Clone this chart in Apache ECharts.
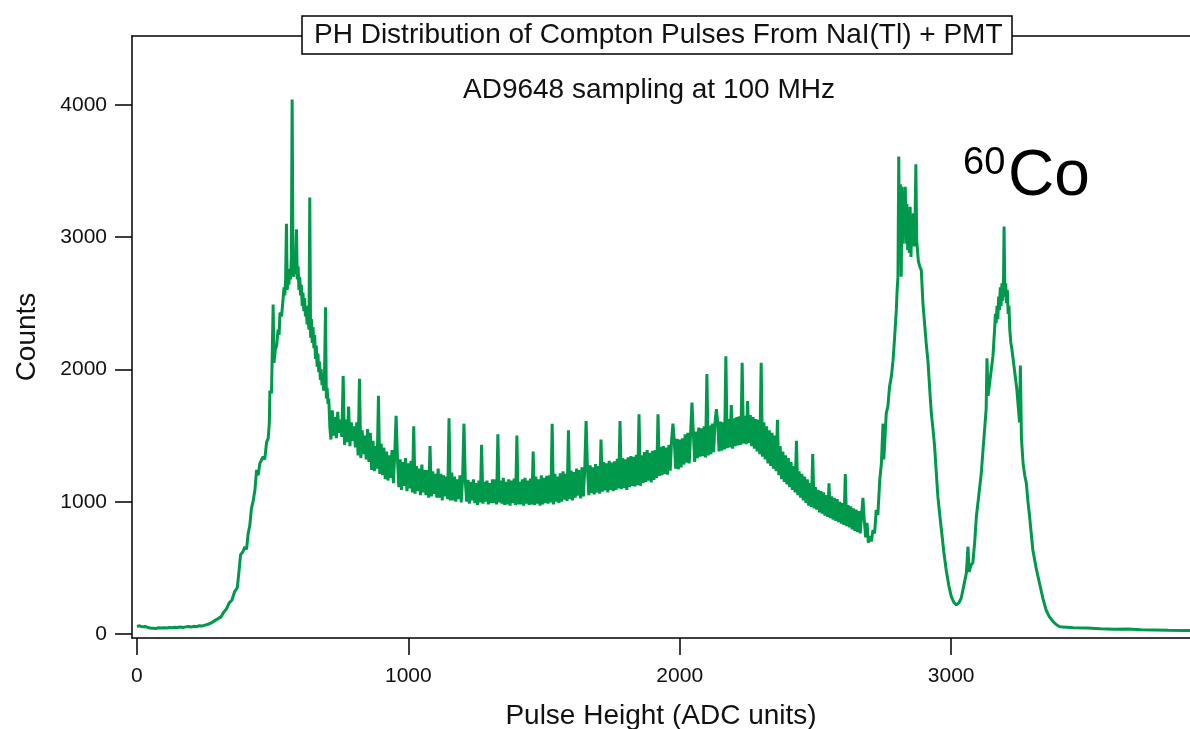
<!DOCTYPE html>
<html>
<head>
<meta charset="utf-8">
<title>PH Distribution of Compton Pulses</title>
<script src="https://cdn.jsdelivr.net/npm/echarts@6/dist/echarts.min.js"></script>
<style>
  html, body { margin: 0; padding: 0; background: #fff; }
  #chart { width: 1190px; height: 729px; }
</style>
</head>
<body>
<div id="chart"></div>
<script>
// tick positions
const xTicks = [0, 1000, 2000, 3000]
const yTicks = [0, 1000, 2000, 3000, 4000]

// spectrum, [channel, counts]
const baseline = [
  [0, 58], [10, 62], [20, 54], [30, 57], [40, 50], [50, 46], [60, 44], [70, 42], [80, 47], [90, 45],
  [100, 48], [110, 46], [120, 50], [130, 47], [140, 51], [150, 49], [160, 53], [170, 50], [180, 54],
  [190, 57], [200, 53], [210, 58], [220, 56], [230, 63], [240, 60], [250, 67], [260, 72], [270, 80],
  [280, 92], [290, 105], [300, 118], [310, 130], [320, 165]
]
const lowPeak = [
  [330, 190], [340, 235], [350, 255], [360, 320], [370, 350], [376, 470], [382, 600], [390, 620],
  [398, 660], [404, 640], [410, 760], [416, 820], [422, 950], [428, 1000], [435, 1090], [441, 1240],
  [447, 1200], [453, 1290], [459, 1280], [465, 1340], [471, 1320], [478, 1450], [484, 1480],
  [488, 1600], [490, 1840], [496, 1820], [502, 2490], [505, 2050], [510, 2150], [515, 2180],
  [520, 2300], [524, 2260], [527, 2430], [533, 2400], [539, 2540], [542, 2620], [545, 2560],
  [548, 2680], [551, 3100], [554, 2600], [557, 2720], [560, 2640], [563, 2760], [566, 2680],
  [569, 2850], [572, 4040], [575, 2820], [578, 2700], [581, 2880], [584, 2720], [588, 3060],
  [591, 2680], [594, 2780], [597, 2600], [600, 2700], [603, 2560], [606, 2640], [609, 2480],
  [612, 2580], [615, 2440], [618, 2540], [621, 2400], [624, 2480], [627, 2340], [630, 2420],
  [634, 2300], [637, 3300], [640, 2240], [643, 2380], [646, 2200], [649, 2320], [652, 2160],
  [655, 2260], [658, 2080], [661, 2180], [664, 2020], [667, 2120], [670, 1980], [673, 2060],
  [676, 1920], [679, 2000], [682, 1880], [685, 1960], [688, 1840], [691, 1920], [695, 2470],
  [698, 1780], [701, 1860], [704, 1740], [707, 1780], [711, 1560]
]
// Compton plateau, one count every 5 channels from channel 715
const plateauStart = 715
const plateauStep = 5
const plateauCounts = [
  1470, 1690, 1500, 1640, 1480, 1680, 1520, 1620, 1490, 1950,
  1430, 1620, 1450, 1720, 1420, 1600, 1460, 1570, 1410, 1600,
  1350, 1930, 1330, 1540, 1360, 1500, 1320, 1550, 1300, 1520,
  1240, 1460, 1230, 1420, 1250, 1800, 1210, 1440, 1200, 1410,
  1170, 1380, 1160, 1350, 1180, 1390, 1140, 1360, 1650, 1330,
  1110, 1320, 1090, 1300, 1120, 1330, 1080, 1290, 1100, 1310,
  1070, 1570, 1060, 1270, 1080, 1250, 1050, 1280, 1070, 1240,
  1050, 1240, 1030, 1420, 1040, 1230, 1060, 1210, 1030, 1250,
  1030, 1210, 1010, 1200, 1040, 1190, 1020, 1630, 1010, 1220,
  1010, 1190, 1000, 1170, 1020, 1200, 995, 1180, 1590, 1160,
  1000, 1165, 985, 1150, 1010, 1170, 990, 1140, 975, 1160,
  995, 1430, 985, 1150, 1000, 1160, 980, 1140, 990, 1170,
  990, 1170, 980, 1510, 995, 1160, 985, 1180, 975, 1150,
  980, 1170, 970, 1160, 990, 1175, 975, 1500, 980, 1150,
  980, 1170, 970, 1180, 985, 1160, 975, 1175, 980, 1380,
  975, 1190, 985, 1170, 970, 1200, 980, 1180, 990, 1195,
  985, 1200, 995, 1590, 980, 1210, 1000, 1190, 990, 1215,
  1000, 1230, 1015, 1210, 1005, 1540, 1020, 1235, 1010, 1225,
  1030, 1250, 1045, 1240, 1025, 1260, 1040, 1245, 1610, 1255,
  1050, 1275, 1065, 1260, 1055, 1285, 1070, 1270, 1060, 1470,
  1075, 1300, 1085, 1290, 1070, 1310, 1090, 1295, 1080, 1305,
  1090, 1325, 1100, 1610, 1095, 1330, 1105, 1320, 1090, 1335,
  1110, 1345, 1120, 1340, 1115, 1355, 1125, 1660, 1120, 1350,
  1140, 1375, 1150, 1390, 1160, 1370, 1145, 1385, 1165, 1390,
  1180, 1660, 1195, 1415, 1200, 1420, 1210, 1410, 1205, 1430,
  1235, 1465, 1590, 1460, 1250, 1475, 1245, 1470, 1260, 1480,
  1280, 1510, 1295, 1520, 1290, 1515, 1750, 1525, 1300, 1530,
  1330, 1560, 1340, 1555, 1345, 1570, 1335, 1965, 1350, 1575,
  1360, 1590, 1375, 1600, 1700, 1595, 1380, 1605, 1385, 1600,
  1395, 2100, 1405, 1625, 1410, 1730, 1400, 1630, 1420, 1640,
  1425, 1645, 1430, 2050, 1440, 1650, 1435, 1760, 1445, 1655,
  1420, 1640, 1400, 1625, 1380, 1620, 1360, 2050, 1340, 1600,
  1320, 1570, 1290, 1540, 1270, 1520, 1250, 1500, 1230, 1620,
  1200, 1420, 1170, 1380, 1150, 1350, 1130, 1330, 1110, 1300,
  1090, 1270, 1070, 1460, 1050, 1230, 1030, 1210, 1010, 1190,
  990, 1170, 970, 1140, 960, 1360, 950, 1110, 940, 1090,
  920, 1080, 910, 1070, 895, 1050, 885, 1140, 875, 1040,
  865, 1030, 855, 1020, 845, 1000, 835, 990, 825, 1210,
  815, 975, 805, 965, 790, 950, 780, 940, 770, 930,
  760, 900, 1030, 860, 730, 840, 690
]
const peak1173 = [
  [2700, 740], [2706, 700], [2712, 786], [2718, 760], [2724, 938], [2730, 900], [2737, 1165],
  [2743, 1290], [2749, 1590], [2752, 1320], [2761, 1670], [2767, 1720], [2773, 1870], [2780, 1950],
  [2786, 2070], [2792, 2250], [2798, 2450], [2801, 2600], [2804, 2700], [2807, 3610], [2810, 2850],
  [2813, 3400], [2816, 2700], [2819, 3380], [2822, 2950], [2825, 3350], [2828, 3050], [2831, 3380],
  [2834, 2950], [2837, 3250], [2840, 2900], [2843, 3200], [2846, 2880], [2849, 3230], [2852, 2850],
  [2855, 3150], [2858, 2950], [2861, 3180], [2864, 2930], [2867, 3100], [2870, 3550], [2873, 2980],
  [2876, 2900], [2879, 2820], [2884, 2780], [2890, 2750], [2896, 2500], [2902, 2350], [2908, 2200],
  [2915, 2050], [2921, 1850], [2927, 1670], [2933, 1550], [2939, 1420], [2945, 1230], [2951, 1040],
  [2958, 900], [2964, 790], [2973, 620], [2982, 480], [2991, 370], [3001, 280], [3010, 240],
  [3019, 220], [3028, 235], [3037, 270], [3046, 360], [3056, 460], [3062, 660], [3066, 470],
  [3073, 520], [3080, 540], [3087, 700], [3093, 890], [3102, 1050], [3111, 1215], [3117, 1380],
  [3123, 1540], [3129, 1700], [3132, 2085], [3136, 1800], [3142, 1900], [3148, 2000], [3154, 2100]
]
const peak1332 = [
  [3160, 2300], [3163, 2420], [3166, 2350], [3169, 2480], [3172, 2380], [3175, 2550], [3178, 2450],
  [3181, 2620], [3184, 2480], [3187, 2650], [3190, 2520], [3193, 2700], [3195, 3080], [3198, 2550],
  [3201, 2650], [3204, 2500], [3207, 2600], [3210, 2420], [3213, 2480], [3216, 2300], [3220, 2200],
  [3224, 2150], [3230, 2050], [3236, 1950], [3242, 1850], [3248, 1700], [3252, 1600], [3255, 2030],
  [3259, 1480], [3265, 1290], [3271, 1200], [3277, 1140], [3283, 1000], [3289, 890], [3295, 760],
  [3301, 635], [3313, 500], [3326, 380], [3338, 270], [3350, 180], [3362, 130], [3375, 95],
  [3388, 70], [3400, 55]
]
const tail = [
  [3450, 48], [3500, 45], [3550, 40], [3600, 36], [3650, 38], [3700, 32], [3750, 30], [3800, 28],
  [3850, 27], [3880, 26]
]

const plateau = plateauCounts.map((c, i) => [plateauStart + i * plateauStep, c])
const spectrum = [].concat(baseline, lowPeak, plateau, peak1173, peak1332, tail)

const font = "'Liberation Sans', Arial, sans-serif"
const axisColor = '#000'
const plain = v => String(v)

const chart = echarts.init(document.getElementById('chart'))

const option = {
  animation: false,
  backgroundColor: '#fff',
  textStyle: { fontFamily: font, color: '#000' },
  title: [
    {
      text: 'PH Distribution of Compton Pulses From NaI(Tl) + PMT',
      left: 302,
      top: 16,
      padding: [5, 10, 5, 12],
      borderColor: '#000',
      borderWidth: 1.5,
      backgroundColor: '#fff',
      textStyle: { fontFamily: font, fontSize: 28, fontWeight: 'normal', color: '#111' }
    },
    {
      text: 'AD9648 sampling at 100 MHz',
      left: 463,
      top: 76,
      padding: 0,
      textStyle: { fontFamily: font, fontSize: 28, fontWeight: 'normal', color: '#111' }
    }
  ],
  grid: { left: 132, right: 0, top: 36, bottom: 91, outerBoundsMode: 'none' },
  xAxis: [
    {
      type: 'value',
      position: 'bottom',
      min: -18,
      max: 3880,
      axisLine: { show: true, onZero: false, lineStyle: { color: axisColor, width: 1.5 } },
      axisTick: { show: true, length: 17, customValues: xTicks, lineStyle: { color: axisColor, width: 1.5 } },
      axisLabel: { customValues: xTicks, formatter: plain, margin: 28, fontSize: 21, color: '#111', fontFamily: font },
      splitLine: { show: false },
      name: 'Pulse Height (ADC units)',
      nameLocation: 'middle',
      nameGap: 64,
      nameTextStyle: { fontSize: 28, color: '#111', fontFamily: font }
    },
    {
      type: 'value',
      position: 'top',
      min: -18,
      max: 3880,
      axisLine: { show: true, onZero: false, lineStyle: { color: axisColor, width: 1.5 } },
      axisTick: { show: false },
      axisLabel: { show: false },
      splitLine: { show: false }
    }
  ],
  yAxis: {
    type: 'value',
    min: -30,
    max: 4520,
    axisLine: { show: true, onZero: false, lineStyle: { color: axisColor, width: 1.5 } },
    axisTick: { show: true, length: 17, customValues: yTicks, lineStyle: { color: axisColor, width: 1.5 } },
    axisLabel: { customValues: yTicks, formatter: plain, margin: 25, fontSize: 21, color: '#111', fontFamily: font },
    splitLine: { show: false },
    name: 'Counts',
    nameLocation: 'middle',
    nameGap: 91,
    nameTextStyle: { fontSize: 28, color: '#111', fontFamily: font }
  },
  graphic: [
    {
      type: 'text',
      left: 963,
      top: 145,
      style: { text: '60', font: '38px ' + font, fill: '#000' }
    },
    {
      type: 'text',
      left: 1008,
      top: 145,
      style: { text: 'Co', font: '64px ' + font, fill: '#000' }
    }
  ],
  series: [
    {
      type: 'line',
      data: spectrum,
      showSymbol: false,
      symbol: 'none',
      lineStyle: { color: '#00994c', width: 3 },
      z: 3
    }
  ]
}

chart.setOption(option)
</script>
</body>
</html>
